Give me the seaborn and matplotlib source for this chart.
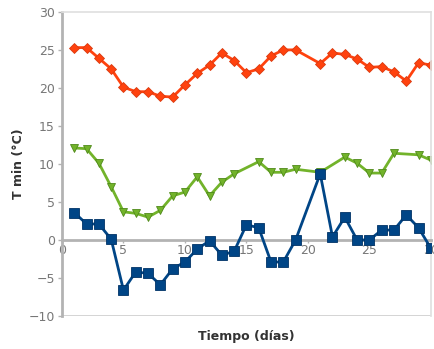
import numpy as np
import pandas as pd
import matplotlib
matplotlib.use("Agg")
import matplotlib.pyplot as plt
import seaborn as sns

nan = np.nan
dias = list(range(1, 31))

# temperaturas minimas por serie (NaN = sin dato)
t_roja = [25.3, 25.3, 23.9, 22.5, 20.1, 19.5, 19.5, 18.9, 18.8, 20.4,
          21.9, 23.0, 24.6, 23.6, 22.0, 22.5, 24.2, 25.0, 25.0, nan,
          23.2, 24.6, 24.4, 23.8, 22.7, 22.8, 22.1, 20.9, 23.3, 23.0]
t_verde = [12.1, 12.0, 10.1, 7.0, 3.7, 3.5, 3.0, 3.9, 5.8, 6.3,
           8.3, 5.8, 7.6, 8.7, nan, 10.3, 8.9, 8.9, 9.3, nan,
           8.9, nan, 10.9, 10.1, 8.8, 8.8, 11.4, nan, 11.2, 10.5]
t_azul = [3.6, 2.1, 2.1, 0.1, -6.6, -4.2, -4.4, -5.9, -3.8, -2.9,
          -1.2, -0.1, -2.0, -1.5, 2.0, 1.6, -2.9, -2.9, 0.0, nan,
          8.7, 0.4, 3.0, 0.0, 0.0, 1.3, 1.3, 3.3, 1.6, -1.1]

series = {
    "roja": (t_roja, "#ff420e", "#d93a10", "D", 5),
    "verde": (t_verde, "#72b32a", "#4f8a1a", "v", 6),
    "azul": (t_azul, "#004586", "#003366", "s", 6.5),
}

sns.set_theme(style="white")
plt.rcParams['font.family'] = ['DejaVu Sans']

fig = plt.figure(figsize=(4.35, 3.49), dpi=100)
ax = fig.add_axes([0.1425, 0.0946, 0.848, 0.8714])

for nombre, (vals, color, borde, marca, tam) in series.items():
    df = pd.DataFrame({"dia": dias, "T": vals}).dropna()
    sns.lineplot(data=df, x="dia", y="T", ax=ax, color=color, linewidth=2,
                 marker=marca, markersize=tam, markeredgecolor=borde,
                 markeredgewidth=0.6, zorder=3 if nombre == "azul" else 2)

ax.set_xlim(0, 30)
ax.set_ylim(-10, 30)
ax.set_xticks([0, 5, 10, 15, 20, 25, 30])
ax.set_yticks([-10, -5, 0, 5, 10, 15, 20, 25, 30])

gris = "#b3b3b3"
ax.spines['bottom'].set_position(('data', 0))
ax.spines['bottom'].set_color(gris)
ax.spines['bottom'].set_linewidth(2)
ax.spines['left'].set_color(gris)
ax.spines['left'].set_linewidth(2)
ax.spines['top'].set_color("#e0e0e0")
ax.spines['right'].set_color("#e0e0e0")
ax.axhline(-10, color="#d0d0d0", linewidth=2, zorder=1)

ax.tick_params(axis='y', left=True, length=3, width=1, color=gris,
               labelsize=9, labelcolor="#777777", pad=2)
ax.tick_params(axis='x', bottom=True, length=2, width=1, color=gris,
               labelsize=9, labelcolor="#777777", pad=1)

ax.set_ylabel("T min (°C)", fontsize=9, fontweight='bold', color="#333333")
ax.yaxis.set_label_coords(-0.1, 0.5)
ax.set_xlabel("Tiempo (días)", fontsize=9, fontweight='bold', color="#333333")
ax.xaxis.set_label_coords(0.5, -0.045)

fig.savefig("out.png", dpi=100)
